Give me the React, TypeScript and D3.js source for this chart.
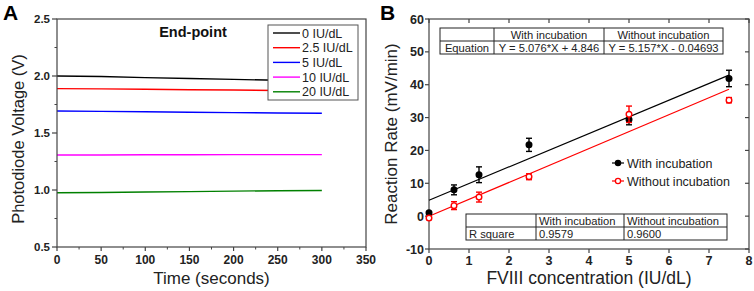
import React from "react";
import * as d3 from "d3";

const timeSec = [0, 50, 100, 150, 200, 250, 300];
const seriesLabels = ["0 IU/dL", "2.5 IU/dL", "5 IU/dL", "10 IU/dL", "20 IU/dL"];
const seriesColors = ["#000000", "#ff0000", "#0000ff", "#ff00ff", "#008000"];
const v0 = [2.0, 1.995, 1.986, 1.978, 1.97, 1.963, 1.959];
const v25 = [1.889, 1.887, 1.884, 1.88, 1.877, 1.873, 1.871];
const v5 = [1.693, 1.69, 1.686, 1.682, 1.679, 1.676, 1.673];
const v10 = [1.307, 1.307, 1.309, 1.309, 1.31, 1.31, 1.31];
const v20 = [0.976, 0.978, 0.982, 0.986, 0.99, 0.994, 0.996];
const voltageSeries = [v0, v25, v5, v10, v20];
const aXTicks = [0, 50, 100, 150, 200, 250, 300, 350];
const aYTicks = [0.5, 1.0, 1.5, 2.0, 2.5];

const conc = [0, 0.625, 1.25, 2.5, 5, 7.5];
const withInc = [1.0, 8.0, 12.6, 21.7, 29.4, 41.9];
const withErr = [0.3, 1.5, 2.4, 2.0, 1.6, 2.5];
const withoutInc = [-0.6, 3.2, 5.8, 12.0, 31.0, 35.3];
const withoutErr = [0.4, 1.2, 1.5, 0.9, 2.5, 0.8];
const fitSlope = [5.076, 5.157];
const fitIntercept = [4.846, -0.04693];
const bXTicks = [0, 1, 2, 3, 4, 5, 6, 7, 8];
const bYTicks = [-10, 0, 10, 20, 30, 40, 50, 60];
const eqRow = ["Equation", "Y = 5.076*X + 4.846", "Y = 5.157*X - 0.04693"];
const r2Row = ["R square", "0.9579", "0.9600"];
const tableHeader = ["", "With incubation", "Without incubation"];

const FONT = "Liberation Sans, Arial, sans-serif";
const AXIS = "#444";

function Frame({ x, y, w, h }: { x: number; y: number; w: number; h: number }) {
  return <rect x={x} y={y} width={w} height={h} fill="none" stroke={AXIS} strokeWidth={1.2} />;
}

function PanelA() {
  const L = 57, R = 366, T = 19, B = 247;
  const x = d3.scaleLinear().domain([0, 350]).range([L, R]);
  const y = d3.scaleLinear().domain([0.5, 2.5]).range([B, T]);
  const line = d3.line<number>().x((_, i) => x(timeSec[i])).y((d) => y(d));
  const minorX = d3.range(25, 350, 50);
  const minorY = d3.range(0.75, 2.5, 0.5);
  return (
    <g>
      {voltageSeries.map((s, i) => (
        <path key={i} d={line(s) || ""} fill="none" stroke={seriesColors[i]} strokeWidth={1.4} />
      ))}
      <Frame x={L} y={T} w={R - L} h={B - T} />
      {aXTicks.map((t) => (
        <g key={t}>
          <line x1={x(t)} x2={x(t)} y1={B} y2={B + 4} stroke={AXIS} strokeWidth={1.2} />
          <text x={x(t)} y={B + 17} textAnchor="middle" fontSize={12} fontWeight="bold" fontFamily={FONT} fill="#222">{t}</text>
        </g>
      ))}
      {minorX.map((t) => (
        <line key={t} x1={x(t)} x2={x(t)} y1={B} y2={B + 2.5} stroke={AXIS} strokeWidth={1} />
      ))}
      {aYTicks.map((t) => (
        <g key={t}>
          <line x1={L - 5} x2={L} y1={y(t)} y2={y(t)} stroke={AXIS} strokeWidth={1.2} />
          <text x={L - 7} y={y(t) + 4} textAnchor="end" fontSize={11.5} fontWeight="bold" fontFamily={FONT} fill="#222">{t.toFixed(1)}</text>
        </g>
      ))}
      {minorY.map((t) => (
        <line key={t} x1={L - 2.5} x2={L} y1={y(t)} y2={y(t)} stroke={AXIS} strokeWidth={1} />
      ))}
      <text x={(L + R) / 2} y={284} textAnchor="middle" fontSize={17} fontFamily={FONT} fill="#222">Time (seconds)</text>
      <text transform={`translate(24,${(T + B) / 2 + 6}) rotate(-90)`} textAnchor="middle" fontSize={16.5} fontFamily={FONT} fill="#222">Photodiode Voltage (V)</text>
      <text x={193} y={37} textAnchor="middle" fontSize={14.5} fontWeight="bold" fontFamily={FONT} fill="#111">End-point</text>
      <rect x={268} y={25} width={90} height={75} fill="#fff" stroke="#555" strokeWidth={1} />
      {seriesLabels.map((lab, i) => (
        <g key={lab}>
          <line x1={273} x2={300} y1={33 + i * 14.7} y2={33 + i * 14.7} stroke={seriesColors[i]} strokeWidth={1.4} />
          <text x={302} y={37.5 + i * 14.7} fontSize={12.5} fontFamily={FONT} fill="#222">{lab}</text>
        </g>
      ))}
      <text x={3} y={20} fontSize={21} fontWeight="bold" fontFamily={FONT} fill="#000">A</text>
    </g>
  );
}

function Table({ x0, y0, cols, rowH, rows, center }: { x0: number; y0: number; cols: number[]; rowH: number; rows: string[][]; center: boolean }) {
  const xs = [x0];
  cols.forEach((c) => xs.push(xs[xs.length - 1] + c));
  const W = xs[xs.length - 1] - x0;
  return (
    <g fontFamily={FONT} fontSize={11.2} fill="#222">
      <rect x={x0} y={y0} width={W} height={rowH * rows.length} fill="#fff" stroke="#222" strokeWidth={1} />
      {rows.slice(1).map((_, r) => (
        <line key={r} x1={x0} x2={x0 + W} y1={y0 + rowH * (r + 1)} y2={y0 + rowH * (r + 1)} stroke="#222" />
      ))}
      {xs.slice(1, -1).map((xx, i) => (
        <line key={i} x1={xx} x2={xx} y1={y0} y2={y0 + rowH * rows.length} stroke="#222" />
      ))}
      {rows.map((row, r) =>
        row.map((cell, c) => (
          <text
            key={`${r}-${c}`}
            x={center ? (xs[c] + xs[c + 1]) / 2 : xs[c] + 3}
            textAnchor={center ? "middle" : "start"}
            y={y0 + rowH * r + rowH - 2.5}
          >
            {cell}
          </text>
        ))
      )}
    </g>
  );
}

function PanelB() {
  const L = 429, R = 749, T = 19, B = 249;
  const x = d3.scaleLinear().domain([0, 8]).range([L, R]);
  const y = d3.scaleLinear().domain([-10, 60]).range([B, T]);
  const cols = ["#000000", "#ff0000"];
  const data = [
    { v: withInc, e: withErr },
    { v: withoutInc, e: withoutErr },
  ];
  return (
    <g>
      <Frame x={L} y={T} w={R - L} h={B - T} />
      {bXTicks.map((t) => (
        <g key={t}>
          <line x1={x(t)} x2={x(t)} y1={B} y2={B + 4} stroke={AXIS} strokeWidth={1.2} />
          <line x1={x(t)} x2={x(t)} y1={T} y2={T + 4} stroke={AXIS} strokeWidth={1.2} />
          <text x={x(t)} y={B + 16} textAnchor="middle" fontSize={12.5} fontWeight="bold" fontFamily={FONT} fill="#222">{t}</text>
        </g>
      ))}
      {bYTicks.map((t) => (
        <g key={t}>
          <line x1={L - 4} x2={L} y1={y(t)} y2={y(t)} stroke={AXIS} strokeWidth={1.2} />
          <line x1={R - 4} x2={R} y1={y(t)} y2={y(t)} stroke={AXIS} strokeWidth={1.2} />
          <text x={L - 5} y={y(t) + 4.5} textAnchor="end" fontSize={12.5} fontWeight="bold" fontFamily={FONT} fill="#222">{t}</text>
        </g>
      ))}
      {fitSlope.map((m, i) => (
        <line key={i} x1={x(0)} x2={x(7.5)} y1={y(fitIntercept[i])} y2={y(m * 7.5 + fitIntercept[i])} stroke={cols[i]} strokeWidth={1.2} />
      ))}
      {data.map((s, si) =>
        s.v.map((v, i) => {
          const cx = x(conc[i]);
          return (
            <g key={`${si}-${i}`} stroke={cols[si]} strokeWidth={1.4}>
              <line x1={cx} x2={cx} y1={y(v - s.e[i])} y2={y(v + s.e[i])} />
              <line x1={cx - 3} x2={cx + 3} y1={y(v - s.e[i])} y2={y(v - s.e[i])} />
              <line x1={cx - 3} x2={cx + 3} y1={y(v + s.e[i])} y2={y(v + s.e[i])} />
              <circle cx={cx} cy={y(v)} r={2.8} fill={si === 0 ? "#000" : "#fff"} />
            </g>
          );
        })
      )}
      <Table x0={440} y0={28} cols={[54, 110, 119]} rowH={13} rows={[tableHeader, eqRow]} center={true} />
      <Table x0={466} y0={214} cols={[70, 88, 103]} rowH={13} rows={[tableHeader, r2Row]} center={false} />
      {["With incubation", "Without incubation"].map((lab, i) => (
        <g key={lab}>
          <line x1={612} x2={624} y1={163 + i * 18} y2={163 + i * 18} stroke={cols[i]} strokeWidth={1.2} />
          <circle cx={618} cy={163 + i * 18} r={2.6} fill={i === 0 ? "#000" : "#fff"} stroke={cols[i]} strokeWidth={1.3} />
          <text x={627} y={167.5 + i * 18} fontSize={12.5} fontFamily={FONT} fill="#222">{lab}</text>
        </g>
      ))}
      <text x={(L + R) / 2} y={284} textAnchor="middle" fontSize={17.5} fontFamily={FONT} fill="#222">FVIII concentration (IU/dL)</text>
      <text transform={`translate(397,${(T + B) / 2}) rotate(-90)`} textAnchor="middle" fontSize={17} fontFamily={FONT} fill="#222">Reaction Rate (mV/min)</text>
      <text x={380} y={20} fontSize={21} fontWeight="bold" fontFamily={FONT} fill="#000">B</text>
    </g>
  );
}

export default function App() {
  return (
    <svg width={754} height={291} style={{ position: "absolute", left: 0, top: 0, background: "#fff" }}>
      <rect width={754} height={291} fill="#fff" />
      <PanelA />
      <PanelB />
    </svg>
  );
}
